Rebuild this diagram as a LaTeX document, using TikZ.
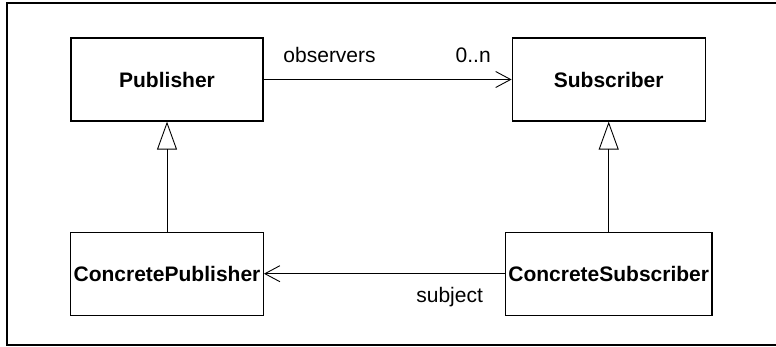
\documentclass[tikz,border=0pt]{standalone}
\usepackage{fontspec}
\setmainfont{Liberation Sans}
\usetikzlibrary{positioning}
\usetikzlibrary{arrows.meta}
\usetikzlibrary{shadows}

\begin{document}
\begin{tikzpicture}[
    x=1pt, y=1pt,
    classbox/.style={rectangle, draw=black, fill=white, line width=1.2pt, minimum height=83pt, inner sep=3pt,
        font=\fontsize{21}{25}\selectfont\bfseries,
        drop shadow={shadow xshift=1pt, shadow yshift=-1pt, fill=black, opacity=1}},
    assoc/.style={-{Straight Barb[length=15pt, width=16pt, line width=0.9pt]}, line width=0.9pt},
    inherit/.style={-{Triangle[open, length=28pt, width=20pt, line width=0.9pt]}, line width=0.9pt},
    role/.style={inner sep=0pt, font=\fontsize{21}{25}\selectfont},
]
    \useasboundingbox (0,0) rectangle (776,-347);
    \draw[line width=1.6pt] (7,-3) rectangle (790,-345);

    \node[classbox, minimum width=192pt] (Pub) at (167,-79.5) {Publisher};
    \node[classbox, minimum width=193pt] (Sub) [right=248pt of Pub] {Subscriber};

    \node[classbox] (CPub) [below=110pt of Pub] {ConcretePublisher};
    \node[classbox] (CSub) [below=110pt of Sub] {ConcreteSubscriber};

    \draw[assoc] (Pub) -- node[role, pos=0.266, above=16pt] {observers}
        node[role, pos=0.845, above=16pt] {0..n} (Sub);

    \draw[inherit] (CPub) -- (Pub);
    \draw[inherit] (CSub) -- (Sub);

    \draw[assoc] (CSub) -- node[role, pos=0.229, below=13pt] {subject} (CPub);
\end{tikzpicture}
\end{document}
